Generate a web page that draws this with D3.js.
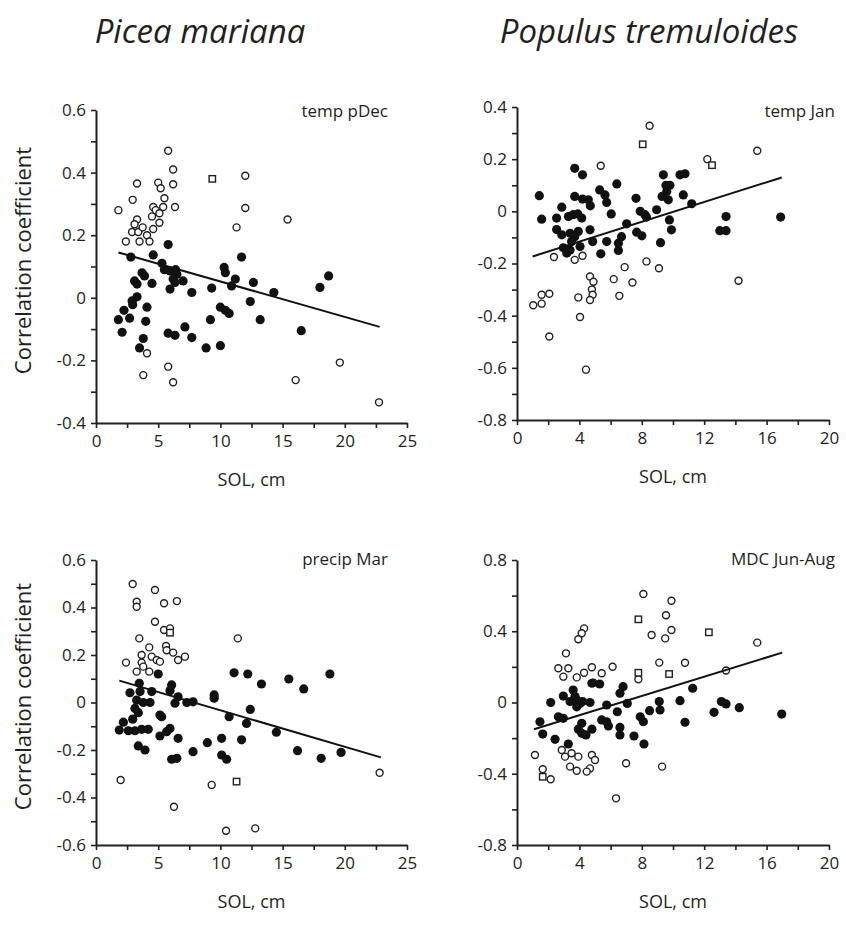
<!DOCTYPE html>
<html>
<head>
<meta charset="utf-8">
<script src="https://cdn.jsdelivr.net/npm/d3@7"></script>
<style>
  html, body { margin: 0; padding: 0; background: #fff; }
  svg { display: block; }
  text { font-family: "Open Sans", "Noto Sans", sans-serif; fill: #231f20; }
</style>
</head>
<body>
<svg id="chart" width="846" height="948"></svg>
<script>
// ---------------- DATA ----------------
const speciesTitles = ["Picea mariana", "Populus tremuloides"];
const panelLabels = ["temp pDec", "temp Jan", "precip Mar", "MDC Jun-Aug"];
const xAxisTitle = "SOL, cm";
const yAxisTitle = "Correlation coefficient";

// Panel 1: Picea mariana, temp pDec
const p1Filled = [[5.8,0.17],[2.8,0.13],[4.6,0.137],[5.3,0.11],[5.5,0.09],[5.95,0.086],[6.4,0.09],[6.5,0.075],[6.2,0.06],[7.0,0.054],[3.7,0.08],[3.9,0.07],[3.1,0.054],[3.3,0.044],[4.5,0.046],[6.35,0.049],[5.95,0.028],[7.7,0.017],[9.3,0.031],[10.3,0.097],[10.4,0.08],[11.2,0.06],[10.9,0.038],[11.7,0.13],[3.3,0.003],[2.9,-0.01],[2.95,-0.022],[4.1,-0.03],[2.25,-0.04],[2.7,-0.065],[1.8,-0.07],[4.0,-0.075],[2.1,-0.11],[3.8,-0.13],[3.5,-0.16],[5.8,-0.113],[6.35,-0.12],[7.15,-0.093],[7.7,-0.127],[9.2,-0.07],[10.0,-0.03],[10.4,-0.04],[10.7,-0.05],[8.85,-0.16],[10.0,-0.153],[12.65,0.049],[12.4,-0.012],[13.2,-0.07],[14.3,0.017],[16.5,-0.105],[18.0,0.033],[18.7,0.07]];
const p1Open = [[5.8,0.47],[6.2,0.41],[3.3,0.365],[6.2,0.363],[5.0,0.368],[5.2,0.35],[2.95,0.313],[5.5,0.318],[6.35,0.29],[1.8,0.28],[4.6,0.29],[4.8,0.28],[5.4,0.29],[4.5,0.26],[5.1,0.27],[3.3,0.25],[3.1,0.235],[5.1,0.24],[4.6,0.22],[2.9,0.21],[3.4,0.21],[2.4,0.18],[3.5,0.18],[4.1,0.2],[4.3,0.18],[3.75,0.225],[11.3,0.225],[12.0,0.287],[12.0,0.39],[15.4,0.25],[4.1,-0.177],[3.8,-0.247],[5.8,-0.22],[6.2,-0.27],[19.6,-0.207],[16.05,-0.263],[22.75,-0.334]];
const p1Square = [[9.35,0.38]];
const p1Fit = [[1.8,0.145],[22.8,-0.093]];

// Panel 2: Populus tremuloides, temp Jan
const p2Filled = [[1.43,0.06],[1.58,-0.03],[3.7,0.165],[4.2,0.14],[2.87,0.016],[2.54,-0.026],[3.7,0.057],[4.2,0.047],[4.57,0.044],[4.7,0.021],[5.3,0.082],[5.64,0.063],[5.75,0.034],[6.4,0.105],[6.04,-0.01],[3.3,-0.02],[3.6,-0.013],[3.9,-0.01],[4.15,-0.026],[2.54,-0.07],[2.87,-0.09],[3.4,-0.084],[3.7,-0.097],[3.93,-0.077],[3.5,-0.116],[2.97,-0.14],[3.19,-0.16],[3.4,-0.148],[4.04,-0.135],[4.68,-0.071],[4.85,-0.116],[5.75,-0.116],[5.37,-0.163],[6.7,-0.097],[6.5,-0.122],[6.5,-0.15],[7.03,-0.048],[7.63,0.05],[7.9,0.0],[8.2,-0.013],[8.3,-0.022],[7.67,-0.08],[8.0,-0.094],[8.95,0.006],[9.2,-0.12],[9.38,0.14],[9.55,0.1],[9.6,0.076],[9.7,0.044],[9.77,-0.033],[9.8,0.1],[9.3,0.057],[10.45,0.14],[10.77,0.144],[10.66,0.063],[11.2,0.029],[9.9,-0.071],[13.4,-0.02],[13.0,-0.074],[13.4,-0.074],[16.9,-0.022]];
const p2Open = [[8.5,0.328],[5.37,0.175],[2.37,-0.175],[3.7,-0.186],[4.2,-0.17],[1.04,-0.36],[1.58,-0.354],[1.58,-0.32],[2.07,-0.316],[2.07,-0.48],[3.93,-0.33],[4.04,-0.405],[4.42,-0.607],[4.68,-0.25],[4.9,-0.27],[4.8,-0.3],[4.85,-0.32],[4.68,-0.34],[6.2,-0.26],[6.56,-0.324],[6.9,-0.214],[7.4,-0.273],[8.3,-0.192],[9.1,-0.218],[12.2,0.2],[15.4,0.232],[14.2,-0.266]];
const p2Square = [[8.06,0.257],[12.5,0.177]];
const p2Fit = [[1.0,-0.173],[16.97,0.13]];

// Panel 3: Picea mariana, precip Mar
const p3Filled = [[5.0,0.12],[11.1,0.125],[3.48,0.081],[6.08,0.074],[2.73,0.041],[3.54,0.046],[4.48,0.046],[5.95,0.05],[6.6,0.024],[9.5,0.032],[9.5,0.018],[3.27,0.01],[3.8,0.0],[4.34,0.0],[6.35,-0.003],[7.3,0.0],[7.8,0.003],[3.13,-0.025],[3.4,-0.043],[5.14,-0.053],[5.28,-0.06],[2.95,-0.07],[2.2,-0.083],[10.7,-0.06],[1.87,-0.116],[2.6,-0.119],[3.13,-0.119],[3.67,-0.113],[4.2,-0.113],[5.95,-0.109],[5.68,-0.123],[5.14,-0.141],[6.6,-0.151],[8.95,-0.169],[10.1,-0.151],[11.7,-0.157],[3.4,-0.183],[3.94,-0.2],[7.8,-0.207],[6.08,-0.239],[6.5,-0.235],[10.1,-0.221],[10.5,-0.239],[12.2,0.12],[13.3,0.078],[15.5,0.099],[16.7,0.057],[18.8,0.12],[12.4,-0.029],[12.1,-0.088],[14.5,-0.125],[16.2,-0.203],[18.1,-0.235],[19.7,-0.21]];
const p3Open = [[2.95,0.499],[4.74,0.474],[3.27,0.424],[3.27,0.403],[5.47,0.418],[6.5,0.427],[4.74,0.34],[5.47,0.305],[5.95,0.312],[3.48,0.27],[4.28,0.232],[5.63,0.238],[5.68,0.22],[3.67,0.2],[4.48,0.193],[4.88,0.179],[5.14,0.172],[2.41,0.168],[3.67,0.168],[3.8,0.151],[3.27,0.13],[4.28,0.13],[6.2,0.21],[6.6,0.179],[7.15,0.193],[11.4,0.27],[1.98,-0.326],[9.3,-0.347],[6.27,-0.439],[10.45,-0.54],[12.8,-0.53],[22.8,-0.296]];
const p3Square = [[5.95,0.294],[11.3,-0.333]];
const p3Fit = [[1.87,0.092],[22.9,-0.231]];

// Panel 4: Populus tremuloides, MDC Jun-Aug
const p4Filled = [[1.47,-0.108],[1.65,-0.177],[2.16,0.0],[2.44,-0.207],[2.97,0.036],[2.65,-0.08],[2.97,-0.089],[3.29,-0.233],[3.6,0.07],[3.72,0.033],[3.4,0.005],[3.83,0.014],[4.04,-0.005],[4.2,0.005],[3.83,-0.024],[4.68,0.0],[4.8,0.108],[5.3,0.104],[4.15,-0.117],[3.93,-0.15],[4.15,-0.173],[4.42,-0.182],[4.8,-0.15],[5.43,-0.098],[5.75,-0.108],[5.86,-0.132],[5.75,-0.014],[6.43,-0.052],[6.6,0.052],[6.8,0.089],[7.07,-0.005],[6.6,-0.14],[6.6,-0.182],[7.5,-0.188],[7.9,-0.08],[8.1,-0.108],[8.14,-0.233],[8.5,-0.046],[9.12,0.005],[9.17,-0.042],[11.26,0.08],[10.45,0.01],[10.77,-0.111],[13.1,0.005],[13.4,-0.008],[12.63,-0.055],[14.25,-0.029],[16.97,-0.065]];
const p4Open = [[8.1,0.609],[9.9,0.571],[9.55,0.49],[8.63,0.379],[9.5,0.36],[9.9,0.407],[4.3,0.416],[4.15,0.389],[3.93,0.355],[3.14,0.276],[2.65,0.192],[3.29,0.192],[2.97,0.145],[3.83,0.141],[4.3,0.167],[4.8,0.198],[5.43,0.164],[6.13,0.201],[4.9,0.111],[7.78,0.13],[9.12,0.224],[10.77,0.223],[15.4,0.336],[13.4,0.18],[1.15,-0.295],[1.65,-0.375],[2.16,-0.431],[2.87,-0.267],[3.08,-0.304],[3.5,-0.285],[3.93,-0.304],[3.4,-0.36],[3.83,-0.383],[4.8,-0.295],[5.0,-0.323],[4.68,-0.37],[4.47,-0.388],[6.99,-0.341],[9.3,-0.36],[6.35,-0.538]];
const p4Square = [[7.78,0.467],[12.3,0.394],[7.78,0.167],[9.75,0.16],[1.65,-0.417]];
const p4Fit = [[1.09,-0.15],[17.0,0.28]];

// Axis ticks
const xTicksPicea = [0,2.5,5,7.5,10,12.5,15,17.5,20,22.5,25];
const xLabelsPicea = [0,5,10,15,20,25];
const xTicksPopulus = [0,2,4,6,8,10,12,14,16,18,20];
const xLabelsPopulus = [0,4,8,12,16,20];
const yTicksP1 = [-0.4,-0.3,-0.2,-0.1,0,0.1,0.2,0.3,0.4,0.5,0.6];
const yLabelsP1 = [-0.4,-0.2,0,0.2,0.4,0.6];
const yTicksP2 = [-0.8,-0.7,-0.6,-0.5,-0.4,-0.3,-0.2,-0.1,0,0.1,0.2,0.3,0.4];
const yLabelsP2 = [-0.8,-0.6,-0.4,-0.2,0,0.2,0.4];
const yTicksP3 = [-0.6,-0.5,-0.4,-0.3,-0.2,-0.1,0,0.1,0.2,0.3,0.4,0.5,0.6];
const yLabelsP3 = [-0.6,-0.4,-0.2,0,0.2,0.4,0.6];
const yTicksP4 = [-0.8,-0.6,-0.4,-0.2,0,0.2,0.4,0.6,0.8];
const yLabelsP4 = [-0.8,-0.4,0,0.4,0.8];

// ---------------- DRAWING ----------------
const svg = d3.select("#chart");

const panels = [
  { filled: p1Filled, open: p1Open, square: p1Square, fit: p1Fit, label: panelLabels[0],
    xDom: [0,25], yDom: [-0.4,0.6], xTicks: xTicksPicea, xLabels: xLabelsPicea, yTicks: yTicksP1, yLabels: yLabelsP1,
    box: { left: 96, right: 407, top: 110, bottom: 423 }, labelX: 388, labelY: 117, yTitle: true },
  { filled: p2Filled, open: p2Open, square: p2Square, fit: p2Fit, label: panelLabels[1],
    xDom: [0,20], yDom: [-0.8,0.4], xTicks: xTicksPopulus, xLabels: xLabelsPopulus, yTicks: yTicksP2, yLabels: yLabelsP2,
    box: { left: 517, right: 829, top: 107, bottom: 420 }, labelX: 835, labelY: 117, yTitle: false },
  { filled: p3Filled, open: p3Open, square: p3Square, fit: p3Fit, label: panelLabels[2],
    xDom: [0,25], yDom: [-0.6,0.6], xTicks: xTicksPicea, xLabels: xLabelsPicea, yTicks: yTicksP3, yLabels: yLabelsP3,
    box: { left: 96, right: 407, top: 560, bottom: 845 }, labelX: 388, labelY: 565, yTitle: true },
  { filled: p4Filled, open: p4Open, square: p4Square, fit: p4Fit, label: panelLabels[3],
    xDom: [0,20], yDom: [-0.8,0.8], xTicks: xTicksPopulus, xLabels: xLabelsPopulus, yTicks: yTicksP4, yLabels: yLabelsP4,
    box: { left: 517, right: 829, top: 560, bottom: 845 }, labelX: 835, labelY: 565, yTitle: false }
];

function fmt(v) {
  if (Math.abs(v) < 1e-9) return "0";
  return String(+v.toFixed(1));
}
function isIn(arr, v) { return arr.some(a => Math.abs(a - v) < 1e-9); }

panels.forEach(p => {
  const b = p.box;
  const x = d3.scaleLinear().domain(p.xDom).range([b.left, b.right]);
  const y = d3.scaleLinear().domain(p.yDom).range([b.bottom, b.top]);
  const g = svg.append("g");

  // y axis
  const yAxis = d3.axisLeft(y).tickValues(p.yTicks).tickSize(5).tickSizeOuter(0).tickPadding(5)
    .tickFormat(v => isIn(p.yLabels, v) ? fmt(v) : "");
  const ya = g.append("g").attr("transform", `translate(${b.left},0)`).call(yAxis);

  // x axis
  const xAxis = d3.axisBottom(x).tickValues(p.xTicks).tickSize(5).tickSizeOuter(0).tickPadding(7)
    .tickFormat(v => isIn(p.xLabels, v) ? fmt(v) : "");
  const xa = g.append("g").attr("transform", `translate(0,${b.bottom})`).call(xAxis);

  [ya, xa].forEach(a => {
    a.select(".domain").attr("stroke", "#231f20").attr("stroke-width", 2);
    a.selectAll(".tick line").attr("stroke", "#231f20").attr("stroke-width", 1.6);
    a.selectAll(".tick text").attr("font-size", 17).attr("fill", "#231f20")
      .attr("font-family", '"Open Sans", sans-serif');
  });

  // x axis title
  g.append("text").attr("x", (b.left + b.right) / 2).attr("y", b.bottom + 63)
    .attr("text-anchor", "middle").attr("font-size", 18).text(xAxisTitle);

  // y axis title
  if (p.yTitle) {
    const cy = (b.top + b.bottom) / 2 - 6;
    g.append("text").attr("transform", `translate(31,${cy}) rotate(-90)`)
      .attr("text-anchor", "middle").attr("font-size", 22).text(yAxisTitle);
  }

  // panel label
  g.append("text").attr("x", p.labelX).attr("y", p.labelY).attr("text-anchor", "end")
    .attr("font-size", 17).text(p.label);

  // open circles
  g.append("g").selectAll("circle").data(p.open).join("circle")
    .attr("cx", d => x(d[0])).attr("cy", d => y(d[1])).attr("r", 3.5)
    .attr("fill", "#fff").attr("stroke", "#231f20").attr("stroke-width", 1.4);

  // open squares
  const s = 6.4;
  g.append("g").selectAll("rect").data(p.square).join("rect")
    .attr("x", d => x(d[0]) - s / 2).attr("y", d => y(d[1]) - s / 2)
    .attr("width", s).attr("height", s)
    .attr("fill", "#fff").attr("stroke", "#231f20").attr("stroke-width", 1.4);

  // filled circles
  g.append("g").selectAll("circle").data(p.filled).join("circle")
    .attr("cx", d => x(d[0])).attr("cy", d => y(d[1])).attr("r", 4.6)
    .attr("fill", "#111");

  // regression line
  g.append("path").datum(p.fit)
    .attr("d", d3.line().x(d => x(d[0])).y(d => y(d[1])))
    .attr("fill", "none").attr("stroke", "#111").attr("stroke-width", 2);
});

// species titles
svg.append("text").attr("x", 200).attr("y", 43).attr("text-anchor", "middle")
  .attr("font-size", 33).attr("font-style", "italic").text(speciesTitles[0]);
svg.append("text").attr("x", 649).attr("y", 43).attr("text-anchor", "middle")
  .attr("font-size", 33).attr("font-style", "italic").text(speciesTitles[1]);
</script>
</body>
</html>
